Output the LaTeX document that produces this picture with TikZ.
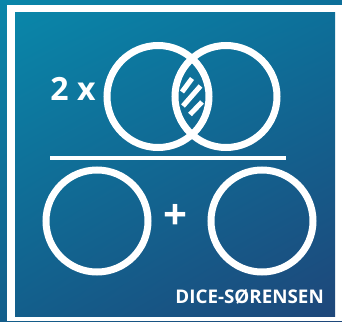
\documentclass[tikz,border=0pt]{standalone}
\usepackage{fontspec}
\setmainfont{Open Sans}
\usepackage{xcolor}
\usepackage{tikz}
\usetikzlibrary{positioning, calc, shadings}
\definecolor{tealtl}{HTML}{0A86A9}
\definecolor{tealtr}{HTML}{0D6F99}
\definecolor{bluebl}{HTML}{135E8B}
\definecolor{bluebr}{HTML}{1E477A}
\tikzstyle{ring} = [draw=white, circle, line width=7pt, minimum size=102pt, inner sep=0pt]
\tikzstyle{whitetext} = [text=white, font=\bfseries, inner sep=0pt]
\tikzstyle{hatch} = [draw=white, line width=5pt]
\tikzstyle{rule} = [draw=white, line width=4.5pt]

\begin{document}
\begin{tikzpicture}[x=1pt, y=-1pt]
    \useasboundingbox (0,0) rectangle (342,321);
    % Background and frame
    \shade[upper left=tealtl, upper right=tealtr, lower left=bluebl, lower right=bluebr] (0,0) rectangle (342,321);
    \fill[white] (7,5) rectangle (342,321);
    \shade[upper left=tealtl, upper right=tealtr, lower left=bluebl, lower right=bluebr] (15,13) rectangle (335,316);

    % Draw circles
    \node (setA) [ring] at (158,96.5) {};
    \node (setB) [ring] at (226,96.5) {};
    \node (sumA) [ring] at (97,221) {};
    \node (sumB) [ring] at (262,221) {};

    % Intersection hatching
    \draw [hatch] (182,92) -- (192,78.5);
    \draw [hatch] (183,106) -- (200.5,86);
    \draw [hatch] (190,114.5) -- (202,102);

    % Fraction bar
    \coordinate (barL) at (50,158);
    \coordinate (barR) at (286,158);
    \draw [rule] (barL) -- (barR);

    % Texts
    \node (factor) [whitetext, font=\fontsize{32}{32}\selectfont\bfseries] at (73,88.5) {2 x};
    \node (plus) [whitetext, font=\fontsize{42}{42}\selectfont\bfseries] at (175,217) {+};
    \node (title) [whitetext, font=\fontsize{18.8}{18.8}\selectfont\bfseries, anchor=base east] at (324,303.5) {DICE-SØRENSEN};
\end{tikzpicture}
\end{document}
